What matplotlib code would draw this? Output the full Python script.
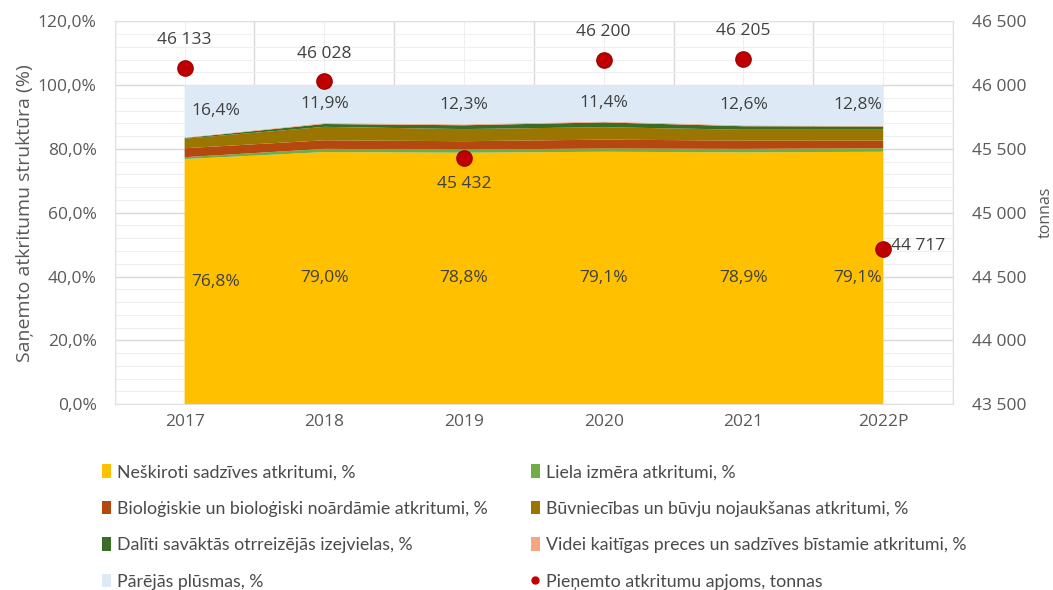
import numpy as np
import matplotlib
matplotlib.use('Agg')
import matplotlib.pyplot as plt
from matplotlib.ticker import FuncFormatter, MultipleLocator
from matplotlib.patches import Patch
from matplotlib.lines import Line2D

plt.rcParams['font.family'] = ['Open Sans', 'DejaVu Sans']

years = ['2017', '2018', '2019', '2020', '2021', '2022P']
neskiroti = [76.8, 79.0, 78.8, 79.1, 78.9, 79.1]
liela = [0.6, 1.0, 1.0, 1.0, 1.1, 1.1]
biologiskie = [2.8, 2.7, 2.6, 2.8, 2.6, 2.4]
buvniecibas = [3.0, 4.2, 3.8, 3.9, 3.4, 3.4]
daliti = [0.2, 0.9, 1.2, 1.5, 1.1, 1.0]
videi = [0.2, 0.3, 0.3, 0.3, 0.3, 0.2]
parejas = [16.4, 11.9, 12.3, 11.4, 12.6, 12.8]
tonnas = [46133, 46028, 45432, 46200, 46205, 44717]

names = ['Neškiroti sadzīves atkritumi, %', 'Liela izmēra atkritumi, %',
         'Bioloģiskie un bioloģiski noārdāmie atkritumi, %', 'Būvniecības un būvju nojaukšanas atkritumi, %',
         'Dalīti savāktās otrreizējās izejvielas, %', 'Videi kaitīgas preces un sadzīves bīstamie atkritumi, %',
         'Pārējās plūsmas, %', 'Pieņemto atkritumu apjoms, tonnas']
colors = ['#FFC000', '#70AD47', '#B4480E', '#9A7500', '#3A6E26', '#F4A582', '#DDEAF6']

grey = '#595959'
fs = 12.5
fig = plt.figure(figsize=(10.53, 5.9), dpi=100)
ax = fig.add_axes([0.109, 0.315, 0.796, 0.649])
ax2 = ax.twinx()

x = np.arange(len(years))
series = [neskiroti, liela, biologiskie, buvniecibas, daliti, videi, parejas]
ax.stackplot(x, *series, colors=colors, linewidth=0, zorder=2)

ax.set_xlim(-0.5, len(years) - 0.5)
ax.set_ylim(0, 120)
ax.yaxis.set_major_locator(MultipleLocator(20))
ax.yaxis.set_minor_locator(MultipleLocator(4))
ax.yaxis.set_major_formatter(FuncFormatter(lambda v, p: ('%.1f%%' % v).replace('.', ',')))
ax.set_xticks(x)
ax.set_xticklabels(years)
ax.set_xticks(np.arange(-0.5, len(years)), minor=True)
ax.grid(which='major', axis='y', color='#d9d9d9', lw=1, zorder=0)
ax.grid(which='minor', axis='y', color='#efefef', lw=0.8, zorder=0)
ax.grid(which='minor', axis='x', color='#d9d9d9', lw=1, zorder=0)
ax.grid(which='major', axis='x', color='#efefef', lw=0.8, zorder=0)
ax.set_axisbelow(True)
ax.tick_params(which='both', length=0, colors=grey, labelsize=fs, pad=7)
ax.tick_params(axis='y', pad=13)
for s in ax.spines.values():
    s.set_color('#e0e0e0')
ax.set_ylabel('Saņemto atkritumu struktūra (%)', color=grey, fontsize=14, labelpad=3)

# percent labels
offs = [0.22, 0, 0, 0, 0, -0.18]
for i in range(len(years)):
    ax.text(x[i] + offs[i], neskiroti[i] / 2, ('%.1f%%' % neskiroti[i]).replace('.', ','),
            ha='center', va='center', fontsize=fs, color='#404040', zorder=5)
    ax.text(x[i] + offs[i], 100 - parejas[i] / 2, ('%.1f%%' % parejas[i]).replace('.', ','),
            ha='center', va='center', fontsize=fs, color='#404040', zorder=5)

# secondary axis
ax2.set_ylim(43500, 46500)
ax2.yaxis.set_major_locator(MultipleLocator(500))
ax2.yaxis.set_major_formatter(FuncFormatter(lambda v, p: '{:,.0f}'.format(v).replace(',', ' ')))
ax2.tick_params(length=0, colors=grey, labelsize=fs, pad=14)
for s in ax2.spines.values():
    s.set_visible(False)
ax2.set_ylabel('tonnas', color=grey, fontsize=11.5, labelpad=8)
ax2.plot(x, tonnas, 'o', ms=11, color='#C00000', mec='#A00000', zorder=6, lw=0)
fmt = lambda v: '{:,.0f}'.format(v).replace(',', ' ')
for i, t in enumerate(tonnas):
    if years[i] == '2019':
        ax2.annotate(fmt(t), (x[i], t), xytext=(0, -19), textcoords='offset points',
                     ha='center', va='center', fontsize=fs, color='#404040')
    elif years[i] == '2022P':
        ax2.annotate(fmt(t), (x[i], t), xytext=(6, 2), textcoords='offset points',
                     ha='left', va='center', fontsize=fs, color='#404040')
    else:
        ax2.annotate(fmt(t), (x[i], t), xytext=(0, 20), textcoords='offset points',
                     ha='center', va='center', fontsize=fs, color='#404040')

handles = [Patch(facecolor=c, edgecolor='none') for c in colors]
handles.append(Line2D([], [], marker='o', ls='none', color='#C00000', ms=5))
# legend is filled row by row, matplotlib fills by column -> reorder
order = [0, 2, 4, 6, 1, 3, 5, 7]
leg = fig.legend([handles[i] for i in order], [names[i] for i in order], ncol=2,
                 loc='upper left', bbox_to_anchor=(0.082, 0.24), frameon=False,
                 handlelength=0.5, handleheight=0.8, handletextpad=0.35,
                 columnspacing=2.4, labelspacing=1.15,
                 prop={'family': ['Lato', 'DejaVu Sans'], 'size': 12.8})
for t in leg.get_texts():
    t.set_color('#4a4a4a')

fig.savefig('out.png', dpi=100)
